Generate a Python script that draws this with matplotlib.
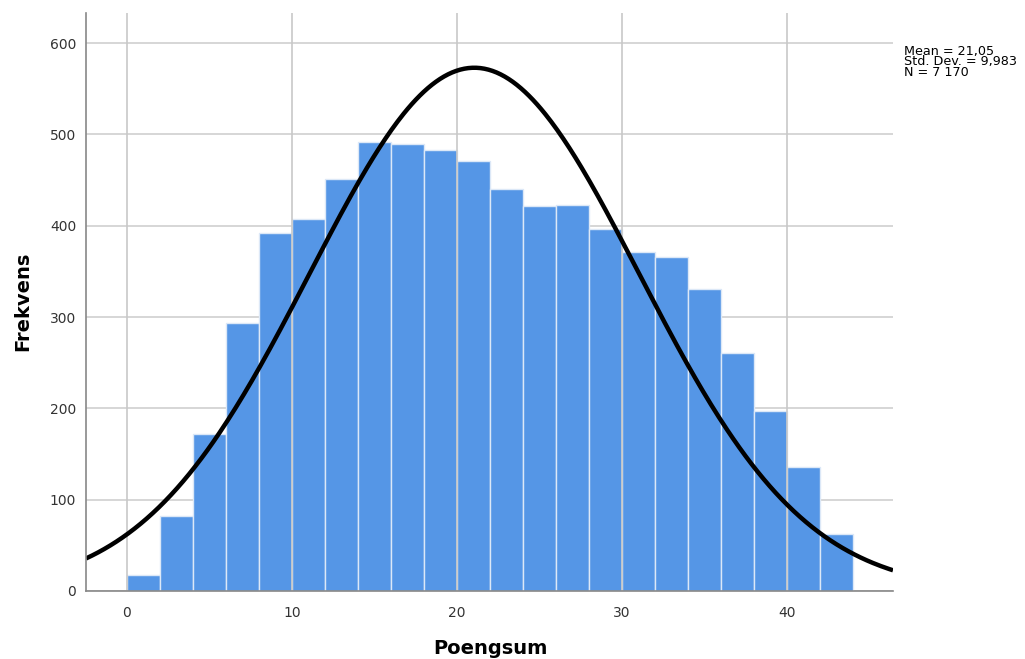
import numpy as np
import matplotlib
matplotlib.use("Agg")
import matplotlib.pyplot as plt

plt.rcParams['font.family'] = ['DejaVu Sans']

bin_edges = list(range(0, 46, 2))
counts = [17, 82, 172, 293, 392, 407, 451, 492, 489, 483, 471, 440,
          422, 423, 396, 371, 366, 331, 261, 197, 136, 62]
mean_val = 21.05
std_val = 9.983
n_val = 7170
x_ticks = [0, 10, 20, 30, 40]
y_ticks = [0, 100, 200, 300, 400, 500, 600]
stat_lines = ['Mean = 21,05', 'Std. Dev. = 9,983', 'N = 7 170']

W, H = 1025, 659
fig = plt.figure(figsize=(W/100, H/100), dpi=100)
ax = fig.add_axes([86/W, 1-591/H, (893-86)/W, (591-13)/H])

left = np.array(bin_edges[:-1])
widths = np.diff(bin_edges)
ax.bar(left, counts, width=widths, align='edge', color='#5596e6',
       edgecolor='#dce8f7', linewidth=1.0, zorder=2)

xs = np.linspace(-2.48, 46.42, 400)
pdf = n_val * 2 / (std_val * np.sqrt(2 * np.pi)) * np.exp(-0.5 * ((xs - mean_val) / std_val) ** 2)
ax.plot(xs, pdf, color='black', linewidth=3.2, zorder=4, solid_capstyle='butt')

ax.set_xlim(-2.48, 46.42)
ax.set_ylim(0, 633)
ax.set_xticks(x_ticks)
ax.set_yticks(y_ticks)
for t in y_ticks:
    ax.axhline(t, color='#d0d0d0', linewidth=1.2, zorder=1)
for t in x_ticks:
    ax.axvline(t, color='#c8c8c8', linewidth=1.2, zorder=3)

for s in ['top', 'right']:
    ax.spines[s].set_visible(False)
for s in ['left', 'bottom']:
    ax.spines[s].set_color('#888888')
    ax.spines[s].set_linewidth(1.2)
    ax.spines[s].set_zorder(5)
ax.tick_params(axis='both', length=0, labelsize=10, colors='#333333')
ax.tick_params(axis='x', pad=11)
ax.tick_params(axis='y', pad=7)

fig.text(23/W, 1-301/H, 'Frekvens', fontsize=14, fontweight='bold',
         rotation=90, ha='center', va='center')
fig.text(490/W, 1-654/H, 'Poengsum', fontsize=14, fontweight='bold',
         ha='center', va='baseline')

fig.text(904/W, 1-45/H, '\n'.join(stat_lines), fontsize=9.2,
         ha='left', va='top', linespacing=0.75)

fig.savefig('out.png', dpi=100)
